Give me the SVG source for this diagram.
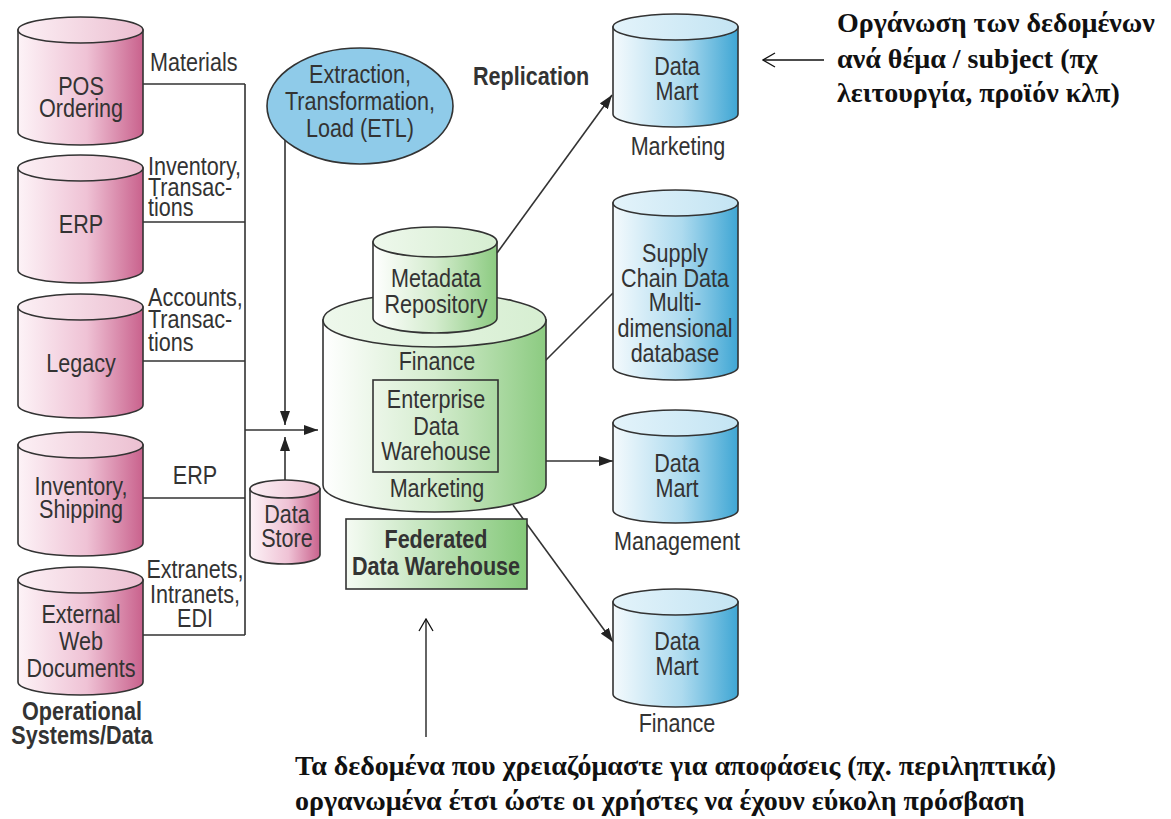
<svg xmlns="http://www.w3.org/2000/svg" width="1171" height="819" viewBox="0 0 1171 819">
  <style>
    .t { font-family: "Liberation Sans", Arial, sans-serif; font-size: 26px; fill: #333;
         transform-box: fill-box; transform-origin: 50% 50%; transform: scaleX(0.83); }
    .c { text-anchor: middle; }
    .l { transform-origin: 0% 50%; }
    .b { font-weight: bold; }
    .gr { font-family: "Liberation Serif", "Times New Roman", serif; font-size: 28px; font-weight: bold; fill: #111; }
    .edge { stroke: #333; stroke-width: 1.6; fill: none; }
    .note { stroke: #111; stroke-width: 1.3; fill: none; }
    .outline { stroke: #333; stroke-width: 1.6; }
  </style>
  <defs>
    <linearGradient id="pinkBody" x1="0" x2="1" y1="0" y2="0">
      <stop offset="0" stop-color="#fdf3f7"/>
      <stop offset="0.55" stop-color="#efc2d5"/>
      <stop offset="1" stop-color="#c9628d"/>
    </linearGradient>
    <linearGradient id="pinkTop" x1="0" x2="1" y1="0" y2="0">
      <stop offset="0" stop-color="#fcf0f5"/>
      <stop offset="1" stop-color="#ecbfd1"/>
    </linearGradient>
    <linearGradient id="blueBody" x1="0" x2="1" y1="0" y2="0">
      <stop offset="0" stop-color="#f4fafd"/>
      <stop offset="0.55" stop-color="#aedbef"/>
      <stop offset="1" stop-color="#3fa6d4"/>
    </linearGradient>
    <linearGradient id="blueTop" x1="0" x2="1" y1="0" y2="0">
      <stop offset="0" stop-color="#e3f3fa"/>
      <stop offset="1" stop-color="#c3e4f3"/>
    </linearGradient>
    <linearGradient id="greenBody" x1="0" x2="1" y1="0" y2="0">
      <stop offset="0" stop-color="#ffffff"/>
      <stop offset="0.5" stop-color="#d4ecce"/>
      <stop offset="1" stop-color="#8ccb81"/>
    </linearGradient>
    <linearGradient id="greenTop" x1="0" x2="1" y1="0" y2="0">
      <stop offset="0" stop-color="#eef8ec"/>
      <stop offset="1" stop-color="#d6eed1"/>
    </linearGradient>
    <linearGradient id="greenBox" x1="0" x2="1" y1="0" y2="0">
      <stop offset="0" stop-color="#f5fbf3"/>
      <stop offset="1" stop-color="#84c879"/>
    </linearGradient>
    <marker id="arrow" viewBox="0 0 14 10" refX="14" refY="5" markerWidth="14" markerHeight="10" markerUnits="userSpaceOnUse" orient="auto">
      <path d="M0,0 L14,5 L0,10 Z" fill="#222"/>
    </marker>
    <marker id="open" viewBox="0 0 14 16" refX="13" refY="8" markerWidth="14" markerHeight="16" markerUnits="userSpaceOnUse" orient="auto">
      <path d="M1,1 L13,8 L1,15" fill="none" stroke="#111" stroke-width="1.3"/>
    </marker>
  </defs>

  <!-- connectors -->
  <g id="connectors">
    <path class="edge" d="M143,84 H245 M143,222 H245 M143,361 H245 M143,498 H245 M143,635 H245 M245,84 V635"/>
    <path class="edge" d="M245,430 H318" marker-end="url(#arrow)"/>
    <path class="edge" d="M285,140 V425" marker-end="url(#arrow)"/>
    <path class="edge" d="M285,481 V437" marker-end="url(#arrow)"/>
    <path class="edge" d="M497,253 L612,95" marker-end="url(#arrow)"/>
    <path class="edge" d="M613,293 L518,388" marker-end="url(#arrow)"/>
    <path class="edge" d="M546,461 H613" marker-end="url(#arrow)"/>
    <path class="edge" d="M513,505 L613,642" marker-end="url(#arrow)"/>
    <path class="note" d="M824,60 H763" marker-end="url(#open)"/>
    <path class="note" d="M426,737 V619" marker-end="url(#open)"/>
  </g>

  <!-- operational sources -->
  <g id="pos">
    <path class="outline" fill="url(#pinkBody)" d="M18,30 V132 A62.5,13 0 0 0 143,132 V30 Z"/>
    <ellipse class="outline" fill="url(#pinkTop)" cx="80.5" cy="30" rx="62.5" ry="13"/>
    <text class="t c" x="81" y="95">POS</text>
    <text class="t c" x="81" y="117">Ordering</text>
  </g>
  <g id="erp">
    <path class="outline" fill="url(#pinkBody)" d="M18,168 V270 A62.5,13 0 0 0 143,270 V168 Z"/>
    <ellipse class="outline" fill="url(#pinkTop)" cx="80.5" cy="168" rx="62.5" ry="13"/>
    <text class="t c" x="81" y="233">ERP</text>
  </g>
  <g id="legacy">
    <path class="outline" fill="url(#pinkBody)" d="M18,307 V405 A62.5,13 0 0 0 143,405 V307 Z"/>
    <ellipse class="outline" fill="url(#pinkTop)" cx="80.5" cy="307" rx="62.5" ry="13"/>
    <text class="t c" x="81" y="372">Legacy</text>
  </g>
  <g id="inventory">
    <path class="outline" fill="url(#pinkBody)" d="M18,445 V543 A62.5,13 0 0 0 143,543 V445 Z"/>
    <ellipse class="outline" fill="url(#pinkTop)" cx="80.5" cy="445" rx="62.5" ry="13"/>
    <text class="t c" x="81" y="495">Inventory,</text>
    <text class="t c" x="81" y="518">Shipping</text>
  </g>
  <g id="external">
    <path class="outline" fill="url(#pinkBody)" d="M18,580 V682 A62.5,13 0 0 0 143,682 V580 Z"/>
    <ellipse class="outline" fill="url(#pinkTop)" cx="80.5" cy="580" rx="62.5" ry="13"/>
    <text class="t c" x="81" y="623">External</text>
    <text class="t c" x="81" y="650">Web</text>
    <text class="t c" x="81" y="677">Documents</text>
  </g>
  <g id="operational-caption">
    <text class="t c b" x="82" y="720">Operational</text>
    <text class="t c b" x="82" y="744">Systems/Data</text>
  </g>

  <!-- flow labels -->
  <g id="flow-labels">
    <text class="t l" x="150" y="71">Materials</text>
    <text class="t l" x="148" y="175">Inventory,</text>
    <text class="t l" x="148" y="196">Transac-</text>
    <text class="t l" x="148" y="216">tions</text>
    <text class="t l" x="148" y="306">Accounts,</text>
    <text class="t l" x="148" y="328">Transac-</text>
    <text class="t l" x="148" y="351">tions</text>
    <text class="t c" x="195" y="484">ERP</text>
    <text class="t c" x="195" y="578">Extranets,</text>
    <text class="t c" x="195" y="603">Intranets,</text>
    <text class="t c" x="195" y="627">EDI</text>
  </g>

  <!-- ETL process -->
  <g id="etl">
    <ellipse class="outline" fill="#8fcbe9" cx="360" cy="106" rx="93" ry="58"/>
    <text class="t c" x="360" y="83">Extraction,</text>
    <text class="t c" x="360" y="110">Transformation,</text>
    <text class="t c" x="360" y="137">Load (ETL)</text>
  </g>

  <g id="replication-label">
    <text class="t l b" x="473" y="85">Replication</text>
  </g>

  <!-- staging store -->
  <g id="data-store">
    <path class="outline" fill="url(#pinkBody)" d="M250,489 V555 A35,9 0 0 0 320,555 V489 Z"/>
    <ellipse class="outline" fill="url(#pinkTop)" cx="285" cy="489" rx="35" ry="9"/>
    <text class="t c" x="287" y="523">Data</text>
    <text class="t c" x="287" y="547">Store</text>
  </g>

  <!-- enterprise warehouse -->
  <g id="edw">
    <path class="outline" fill="url(#greenBody)" d="M323,320 V485 A111.5,27 0 0 0 546,485 V320 Z"/>
    <ellipse class="outline" fill="url(#greenTop)" cx="434.5" cy="320" rx="111.5" ry="27"/>
    <text class="t c" x="437" y="370">Finance</text>
    <rect x="373" y="380" width="125" height="92" fill="none" stroke="#333" stroke-width="1.6"/>
    <text class="t c" x="436" y="408">Enterprise</text>
    <text class="t c" x="436" y="435">Data</text>
    <text class="t c" x="436" y="460">Warehouse</text>
    <text class="t c" x="437" y="497">Marketing</text>
  </g>

  <g id="metadata">
    <path class="outline" fill="url(#greenBody)" d="M373,242 V318 A62,15 0 0 0 497,318 V242 Z"/>
    <ellipse class="outline" fill="url(#greenTop)" cx="435" cy="242" rx="62" ry="15"/>
    <text class="t c" x="436" y="287">Metadata</text>
    <text class="t c" x="436" y="313">Repository</text>
  </g>

  <g id="federated">
    <rect x="346" y="519" width="181" height="70" fill="url(#greenBox)" stroke="#333" stroke-width="1.6"/>
    <text class="t c b" x="436" y="548">Federated</text>
    <text class="t c b" x="436" y="575">Data Warehouse</text>
  </g>

  <!-- subject marts -->
  <g id="mart-marketing">
    <path class="outline" fill="url(#blueBody)" d="M613,27 V114 A62.5,13 0 0 0 738,114 V27 Z"/>
    <ellipse class="outline" fill="url(#blueTop)" cx="675.5" cy="27" rx="62.5" ry="13"/>
    <text class="t c" x="677" y="75">Data</text>
    <text class="t c" x="677" y="100">Mart</text>
    <text class="t c" x="678" y="155">Marketing</text>
  </g>
  <g id="supply-chain">
    <path class="outline" fill="url(#blueBody)" d="M613,203 V367 A62.5,13 0 0 0 738,367 V203 Z"/>
    <ellipse class="outline" fill="url(#blueTop)" cx="675.5" cy="203" rx="62.5" ry="13"/>
    <text class="t c" x="675" y="262">Supply</text>
    <text class="t c" x="675" y="287">Chain Data</text>
    <text class="t c" x="675" y="311">Multi-</text>
    <text class="t c" x="675" y="337">dimensional</text>
    <text class="t c" x="675" y="362">database</text>
  </g>
  <g id="mart-management">
    <path class="outline" fill="url(#blueBody)" d="M613,423 V510 A62.5,13 0 0 0 738,510 V423 Z"/>
    <ellipse class="outline" fill="url(#blueTop)" cx="675.5" cy="423" rx="62.5" ry="13"/>
    <text class="t c" x="677" y="472">Data</text>
    <text class="t c" x="677" y="497">Mart</text>
    <text class="t c" x="677" y="550">Management</text>
  </g>
  <g id="mart-finance">
    <path class="outline" fill="url(#blueBody)" d="M613,602 V694 A62.5,13 0 0 0 738,694 V602 Z"/>
    <ellipse class="outline" fill="url(#blueTop)" cx="675.5" cy="602" rx="62.5" ry="13"/>
    <text class="t c" x="677" y="650">Data</text>
    <text class="t c" x="677" y="675">Mart</text>
    <text class="t c" x="677" y="732">Finance</text>
  </g>

  <!-- annotations -->
  <g id="note-subject">
    <text class="gr" x="837" y="32">Οργάνωση των δεδομένων</text>
    <text class="gr" x="837" y="68">ανά θέμα / subject (πχ</text>
    <text class="gr" x="837" y="102">λειτουργία, προϊόν κλπ)</text>
  </g>
  <g id="note-decisions">
    <text class="gr" x="295" y="775">Τα δεδομένα που χρειαζόμαστε για αποφάσεις (πχ. περιληπτικά)</text>
    <text class="gr" x="295" y="810">οργανωμένα έτσι ώστε οι χρήστες να έχουν εύκολη πρόσβαση</text>
  </g>
</svg>
